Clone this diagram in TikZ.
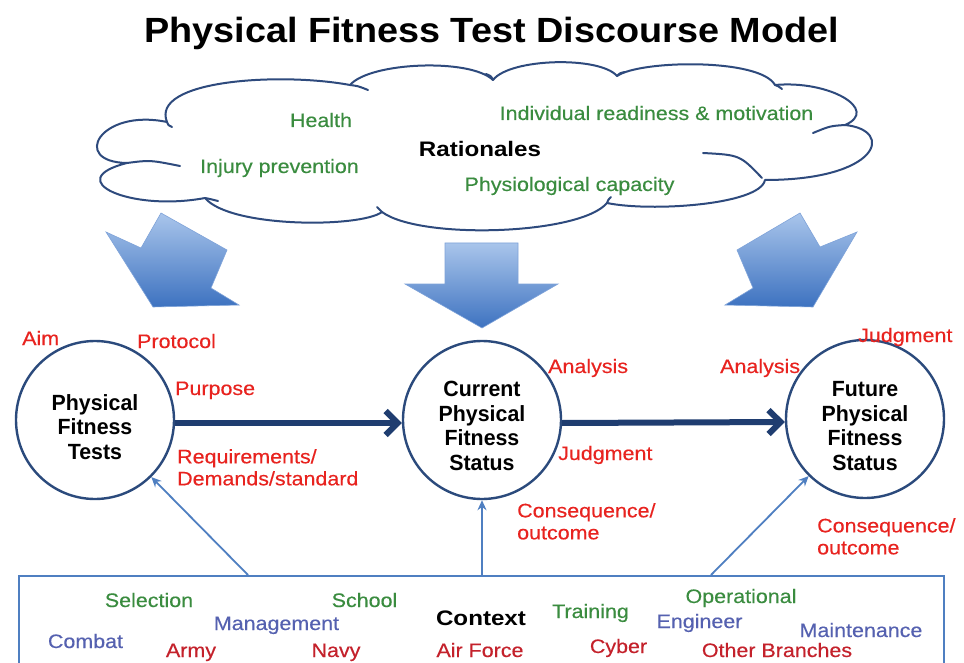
\documentclass[tikz,border=0pt]{standalone}
\usepackage{fontspec}
\setmainfont{Liberation Sans}
\newfontfamily\fReg{Liberation Sans}[FakeStretch=1.1,FakeBold=0.35]
\newfontfamily\fHead{Liberation Sans}[FakeStretch=1.15]
\newfontfamily\fCirc{Liberation Sans}[FakeStretch=0.97]
\newfontfamily\fTitle{Liberation Sans}[FakeStretch=1.08]
\usetikzlibrary{arrows.meta}
\definecolor{grn}{HTML}{3A8C3F}
\definecolor{redA}{HTML}{E8231F}
\definecolor{redB}{HTML}{C4212B}
\definecolor{blu}{HTML}{5561B0}
\definecolor{navy}{HTML}{2B4A7C}
\definecolor{arrc}{HTML}{1F3D70}
\definecolor{boxb}{HTML}{4F7FC1}
\definecolor{cloudc}{HTML}{2E4A7D}
\definecolor{shtop}{HTML}{A9C5EB}
\definecolor{shbot}{HTML}{3D72C0}
\definecolor{shedge}{HTML}{7FA3D9}
\begin{document}
\begin{tikzpicture}[x=1pt,y=-1pt,
  txt/.style={inner sep=0pt, anchor=base, font={\fReg\fontsize{19.5}{22}\selectfont}},
  grnt/.style={txt, text=grn},
  redl/.style={txt, anchor=base west, text=redA},
  redm/.style={txt, anchor=north west, align=left, text=redA},
  ctxr/.style={txt, text=redB},
  ctxb/.style={txt, text=blu},
  head/.style={inner sep=0pt, anchor=base, font={\fHead\bfseries\fontsize{21}{24}\selectfont}},
  circ/.style={circle, draw=navy, line width=2.4pt, minimum size=158pt, inner sep=0pt},
  ctext/.style={inner sep=0pt, align=center, font={\fCirc\bfseries\fontsize{22}{24.5}\selectfont}},
  fat/.style={draw=arrc, line width=6pt, -{Straight Barb[length=12pt,width=24pt]}},
  thinarrow/.style={draw=boxb, line width=1.8pt, -{Stealth[length=10pt,width=9pt]}},
  blockarrow/.style={top color=shtop, bottom color=shbot, draw=shedge, line width=0.6pt},
  cloudline/.style={draw=cloudc, line width=2pt, line cap=round, line join=round}
]
\useasboundingbox (0,0) rectangle (964,663);
\fill[white] (0,0) rectangle (964,663);
\clip (0,0) rectangle (964,663);

% title
\node[inner sep=0pt, anchor=base, font={\fTitle\bfseries\fontsize{35}{40}\selectfont}] (title) at (491.5,43) {Physical Fitness Test Discourse Model};

% cloud
\path[cloudline, fill=white] (127,163)
 .. controls (70,162) and (100,108) .. (167,122)
 .. controls (150,80) and (280,72) .. (350,85)
 .. controls (370,62) and (470,58) .. (493,80)
 .. controls (510,58) and (600,56) .. (617,76)
 .. controls (640,60) and (760,58) .. (775,85)
 .. controls (830,80) and (880,110) .. (845,125)
 .. controls (895,130) and (880,180) .. (765,180)
 .. controls (760,205) and (650,212) .. (607,203)
 .. controls (580,235) and (420,240) .. (382,212)
 .. controls (360,228) and (230,228) .. (205,198)
 .. controls (130,212) and (60,180) .. (127,163) -- cycle;
\draw[cloudline] (845,125) .. controls (830,126) .. (813,133);
\draw[cloudline] (703,153) .. controls (740,155) .. (762,178);
\draw[cloudline] (127,163) .. controls (150,160) .. (180,166);
\draw[cloudline] (205,198) .. controls (210,199) .. (218,201);
\draw[cloudline] (350,85) .. controls (358,86) .. (368,90);
\draw[cloudline] (167,122) .. controls (168,125) .. (172,127);
\draw[cloudline] (493,80) .. controls (491,76) .. (486,74);
\draw[cloudline] (617,76) .. controls (620,73) .. (625,72);
\draw[cloudline] (775,85) .. controls (778,86) .. (782,89);
\draw[cloudline] (382,212) .. controls (380,209) .. (377,207);
\draw[cloudline] (607,203) .. controls (608,200) .. (611,197);

% cloud texts
\node[grnt] (health) at (321,127) {Health};
\node[grnt] (injury) at (279.5,173) {Injury prevention};
\node[head] (rationales) at (480,157) {Rationales};
\node[grnt] (indiv) at (656.5,120) {Individual readiness \& motivation};
\node[grnt] (physio) at (569.5,191) {Physiological capacity};

% block arrows
\path[blockarrow] (106,232) -- (141,248) -- (161,213) -- (227,250) -- (211,288) -- (239,305) -- (153,307) -- cycle;
\path[blockarrow] (445,243) -- (518,243) -- (518,284) -- (558,284) -- (482,328) -- (405,284) -- (445,284) -- cycle;
\path[blockarrow] (737,250) -- (800,213) -- (820,247) -- (857,232) -- (813,307) -- (725,305) -- (753,288) -- cycle;

% circles
\node[circ] (c1) at (95,420) {};
\node[circ] (c2) at (482,420) {};
\node[circ] (c3) at (865,419) {};
\node[ctext] (c1t) at (95,427) {Physical\\Fitness\\Tests};
\node[ctext] (c2t) at (482,426) {Current\\Physical\\Fitness\\Status};
\node[ctext] (c3t) at (865,426) {Future\\Physical\\Fitness\\Status};

\draw[fat] ([yshift=-3pt]c1.east) -- ([yshift=-3pt]c2.west);
\draw[fat] ([yshift=-3pt]c2.east) -- ([yshift=-3pt]c3.west);

% red labels
\node[redl] (aim) at (22,345) {Aim};
\node[redl] (protocol) at (137,348) {Protocol};
\node[redl] (purpose) at (175,395) {Purpose};
\node[redm] (req) at (177,449) {Requirements/\\Demands/standard};
\node[redl] (an2) at (548,373) {Analysis};
\node[redl] (jd2) at (558,460) {Judgment};
\node[redm] (cq2) at (517,503) {Consequence/\\outcome};
\node[redl] (an3) at (720,373) {Analysis};
\node[redl] (jd3) at (858,342) {Judgment};
\node[redm] (cq3) at (817,518) {Consequence/\\outcome};

% context box
\node[draw=boxb, line width=1.8pt, minimum width=925pt, minimum height=130pt, anchor=north west, inner sep=0pt] (ctxbox) at (18,575) {};
\coordinate (b1) at (248,575);
\coordinate (b2) at (482,575);
\coordinate (b3) at (711,575);
\draw[thinarrow] (b1) -- (c1);
\draw[thinarrow] (b2) -- (c2);
\draw[thinarrow] (b3) -- (c3);

% context words
\node[grnt] (selection) at (149,607) {Selection};
\node[grnt] (school) at (364.5,607) {School};
\node[ctxb] (management) at (276.5,630) {Management};
\node[head] (context) at (481,625) {Context};
\node[grnt] (training) at (590.5,618) {Training};
\node[grnt] (operational) at (741,603) {Operational};
\node[ctxb] (engineer) at (699.5,628) {Engineer};
\node[ctxb] (maintenance) at (861,637) {Maintenance};
\node[ctxb] (combat) at (85.5,648) {Combat};
\node[ctxr] (army) at (191,657) {Army};
\node[ctxr] (navy) at (336,657) {Navy};
\node[ctxr] (airforce) at (480,657) {Air Force};
\node[ctxr] (cyber) at (618.5,653) {Cyber};
\node[ctxr] (other) at (777,657) {Other Branches};
\end{tikzpicture}
\end{document}
